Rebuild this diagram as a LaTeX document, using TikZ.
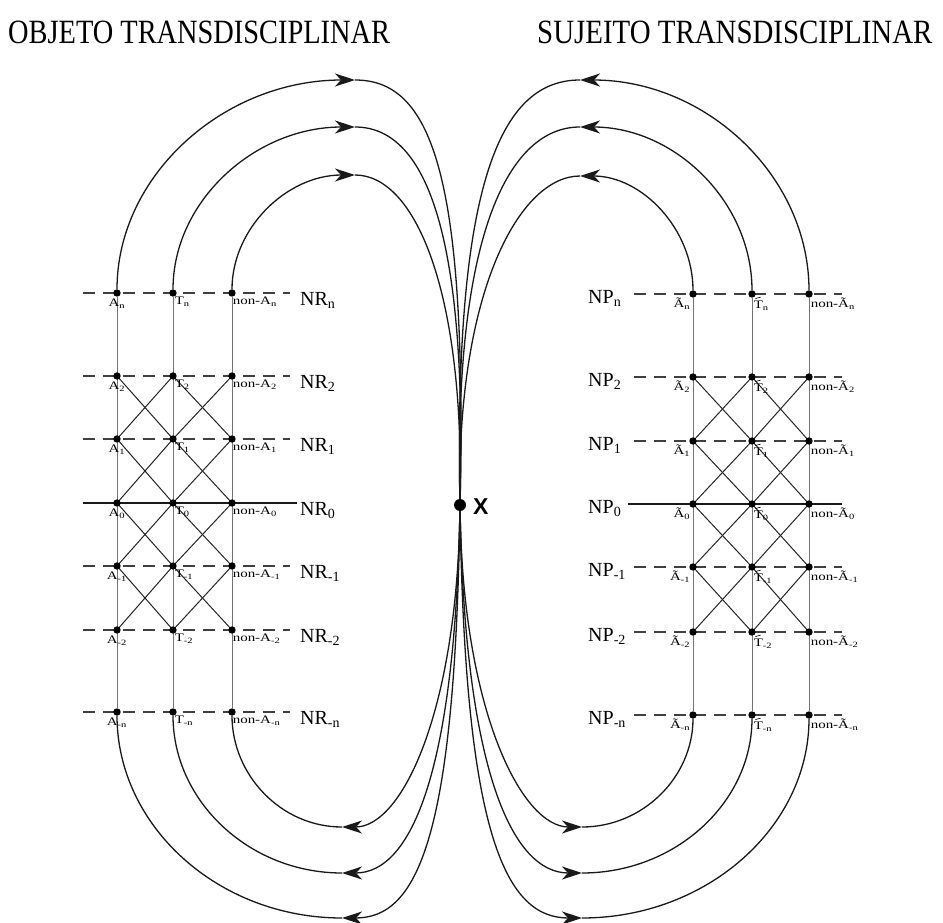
\documentclass[tikz,border=0pt]{standalone}
\usepackage{fontspec}
\setmainfont{Liberation Serif}
\newfontfamily\xsans{Liberation Sans}
\usetikzlibrary{arrows.meta}
\newcommand{\smlbl}[1]{\scalebox{1.3}[1]{#1}}
\begin{document}
\begin{tikzpicture}[x=1pt,y=-1pt,
  dotpt/.style={circle,inner sep=0pt,minimum size=7pt},
  bigdot/.style={circle,fill=black,inner sep=0pt,minimum size=12pt},
  vline/.style={draw=black!55,line width=1pt},
  diag/.style={draw=black!85,line width=1pt},
  lvl/.style={draw=black!75,line width=1.3pt,dash pattern=on 12pt off 8pt},
  lvlzero/.style={draw=black!90,line width=1.5pt},
  arcline/.style={draw=black!90,line width=1.3pt},
  tildeline/.style={draw=black,line width=0.6pt},
  tip/.style={-{Stealth[length=20pt,width=13pt,inset=6pt]}},
  lbl/.style={font=\fontsize{11.5}{11.5}\selectfont,inner sep=1pt},
  lev/.style={font=\fontsize{20}{20}\selectfont,inner sep=0pt,anchor=base west},
  ttl/.style={font=\fontsize{34}{34}\selectfont,inner sep=0pt,anchor=base west}
]
\useasboundingbox[fill=white] (0,0) rectangle (943,923);

% titles
\node[ttl] (t1) at (8,44) {\scalebox{0.835}[1]{OBJETO TRANSDISCIPLINAR}};
\node[ttl] (t2) at (537,44) {\scalebox{0.85}[1]{SUJEITO TRANSDISCIPLINAR}};

% central point
\node[bigdot] (X) at (460,505) {};
\node[font=\xsans\bfseries\fontsize{23}{23}\selectfont,anchor=west,inner sep=0pt] (xl) at (473,507) {X};

% left grid nodes
\foreach \r/\y/\s in {n/293/n,2/376/2,1/439/1,0/503/0,m1/566/-1,m2/630/-2,mn/712/-n} {
  \node[dotpt] (LA\r) at (117,\y) {};
  \node[dotpt] (LT\r) at (173,\y) {};
  \node[dotpt] (LN\r) at (232,\y) {};
  \node[lev] (NR\r) at (300,\y+12) {NR\textsubscript{\s}};
  \coordinate (LS\r) at (83,\y);
  \coordinate (LE\r) at (290,\y);
}
% right grid nodes
\foreach \r/\y/\s in {n/294/n,2/377/2,1/441/1,0/504/0,m1/567/-1,m2/632/-2,mn/715/-n} {
  \node[dotpt] (RA\r) at (693,\y) {};
  \node[dotpt] (RT\r) at (752,\y) {};
  \node[dotpt] (RN\r) at (809,\y) {};
  \node[lev] (NP\r) at (588,\y+9) {NP\textsubscript{\s}};
  \coordinate (RS\r) at (634,\y);
  \coordinate (RE\r) at (842,\y);
}
\coordinate (RS0) at (628,504);
\coordinate (LE0) at (297,503);

% level lines
\foreach \r in {n,2,1,m1,m2,mn} {
  \draw[lvl] (LS\r) -- (LE\r);
  \draw[lvl] (RS\r) -- (RE\r);
}
\draw[lvlzero] (LS0) -- (LE0);
\draw[lvlzero] (RS0) -- (RE0);

% verticals
\foreach \c in {A,T,N} {
  \draw[vline] (L\c n) -- (L\c mn);
  \draw[vline] (R\c n) -- (R\c mn);
}
% diagonals
\foreach \a/\b in {2/1,1/0,0/m1,m1/m2} {
  \draw[diag] (LA\a.center) -- (LT\b.center);
  \draw[diag] (LT\a.center) -- (LA\b.center);
  \draw[diag] (LT\a.center) -- (LN\b.center);
  \draw[diag] (LN\a.center) -- (LT\b.center);
  \draw[diag] (RA\a.center) -- (RT\b.center);
  \draw[diag] (RT\a.center) -- (RA\b.center);
  \draw[diag] (RT\a.center) -- (RN\b.center);
  \draw[diag] (RN\a.center) -- (RT\b.center);
}

% dots and small labels
\foreach \r/\s in {n/n,2/2,1/1,0/0,m1/-1,m2/-2,mn/-n} {
  \foreach \c in {A,T,N} {
    \fill (L\c\r) circle (3.7pt);
    \fill (R\c\r) circle (3.7pt);
  }
  \node[lbl,anchor=north] (LAl\r) at ([yshift=-1pt]LA\r.south) {\smlbl{A\textsubscript{\s}}};
  \node[lbl,anchor=north west] (LTl\r) at ([xshift=-2pt]LT\r.south east) {\smlbl{T\textsubscript{\s}}};
  \node[lbl,anchor=north west] (LNl\r) at ([xshift=-3pt]LN\r.south east) {\smlbl{non-A\textsubscript{\s}}};
  \node[lbl,anchor=north east] (RAl\r) at ([xshift=1pt]RA\r.south west) {\smlbl{Ã\textsubscript{\s}}};
  \node[lbl,anchor=north west] (RTl\r) at ([xshift=-2pt,yshift=-3pt]RT\r.south east) {\smlbl{T\textsubscript{\s}}};
  \draw[tildeline] ([xshift=2.8pt,yshift=1.0pt]RTl\r.north west)
     .. controls ([xshift=4.6pt,yshift=3.4pt]RTl\r.north west)
     and ([xshift=6.0pt,yshift=0.2pt]RTl\r.north west)
     .. ([xshift=8.0pt,yshift=2.4pt]RTl\r.north west);
  \node[lbl,anchor=north west] (RNl\r) at ([xshift=-2pt]RN\r.south east) {\smlbl{non-Ã\textsubscript{\s}}};
}

% apex coordinates
\coordinate (TLo) at (355,80);  \coordinate (TLm) at (355,127); \coordinate (TLi) at (355,175);
\coordinate (TRo) at (580,80);  \coordinate (TRm) at (580,127); \coordinate (TRi) at (580,176);
\coordinate (BLo) at (342,918); \coordinate (BLm) at (342,873); \coordinate (BLi) at (342,827);
\coordinate (BRo) at (582,918); \coordinate (BRm) at (582,873); \coordinate (BRi) at (582,827);

% top left arcs
\draw[arcline,tip] (LAn) .. controls (117,175) and (224,80) .. (TLo);
\draw[arcline] (TLo) .. controls (430,80) and (467,170) .. (X);
\draw[arcline,tip] (LTn) .. controls (173,201) and (255,127) .. (TLm);
\draw[arcline] (TLm) .. controls (425,127) and (467,230) .. (X);
\draw[arcline,tip] (LNn) .. controls (232,228) and (287,175) .. (TLi);
\draw[arcline] (TLi) .. controls (415,175) and (464,290) .. (X);
% top right arcs
\draw[arcline,tip] (RNn) .. controls (809,176) and (706,80) .. (TRo);
\draw[arcline] (TRo) .. controls (505,80) and (454,170) .. (X);
\draw[arcline,tip] (RTn) .. controls (752,202) and (675,127) .. (TRm);
\draw[arcline] (TRm) .. controls (510,127) and (454,230) .. (X);
\draw[arcline,tip] (RAn) .. controls (693,229) and (642,176) .. (TRi);
\draw[arcline] (TRi) .. controls (520,176) and (457,290) .. (X);
% bottom left arcs
\draw[arcline,tip] (X) .. controls (455,840) and (417,918) .. (BLo);
\draw[arcline] (BLo) .. controls (218,918) and (117,826) .. (LAmn);
\draw[arcline,tip] (X) .. controls (455,770) and (412,873) .. (BLm);
\draw[arcline] (BLm) .. controls (249,873) and (173,801) .. (LTmn);
\draw[arcline,tip] (X) .. controls (457,712) and (402,827) .. (BLi);
\draw[arcline] (BLi) .. controls (281,827) and (232,775) .. (LNmn);
% bottom right arcs
\draw[arcline,tip] (X) .. controls (465,840) and (507,918) .. (BRo);
\draw[arcline] (BRo) .. controls (707,918) and (809,827) .. (RNmn);
\draw[arcline,tip] (X) .. controls (465,770) and (512,873) .. (BRm);
\draw[arcline] (BRm) .. controls (676,873) and (752,802) .. (RTmn);
\draw[arcline,tip] (X) .. controls (463,712) and (522,827) .. (BRi);
\draw[arcline] (BRi) .. controls (643,827) and (693,777) .. (RAmn);
\end{tikzpicture}
\end{document}
